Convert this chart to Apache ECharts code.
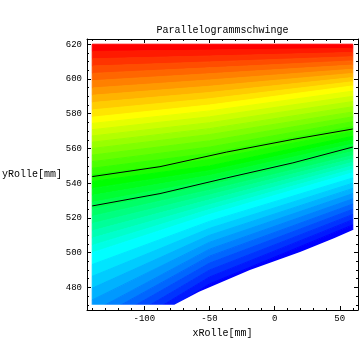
<!DOCTYPE html>
<html>
<head>
<meta charset="utf-8">
<script src="https://cdn.jsdelivr.net/npm/echarts@6/dist/echarts.min.js"></script>
<style>
html, body { margin: 0; padding: 0; background: #fff; }
#chart { width: 360px; height: 360px; }
</style>
</head>
<body>
<div id="chart"></div>
<script>
// Lage der Farbgrenzen (Hue k/12, k = 0..8) an den Stellen x = -140, -50, 60
var edgeX = [-140, -50, 60];
var levelYLeft  = [620, 599, 578, 560, 541, 521, 500, 466, 440];
var levelYMid   = [620, 603, 585, 568, 550, 536, 522, 502, 482];
var levelYRight = [620, 608, 596, 581, 567, 556, 546, 531, 516];
var bandsPerLevel = 5;

// unterer Rand des erreichbaren Bereichs
var rimX = [-140, -77, -58, -19, 20, 46, 60];
var rimY = [470, 470, 477.5, 490, 500.5, 508.5, 513];

// die zwei schwarzen Kurven
var curveX = [-140, -88, -37, 14, 60];
var upperY = [543.8, 549.5, 557.9, 565.2, 571.2];
var lowerY = [526.9, 534, 543, 551.7, 560.8];

// Achsenteilung
var xMajor = [-100, -50, 0, 50];
var xMinor = [-140, -130, -120, -110, -90, -80, -70, -60, -40, -30, -20, -10, 10, 20, 30, 40, 60];
var yMajor = [480, 500, 520, 540, 560, 580, 600, 620];
var yMinor = [470, 475, 485, 490, 495, 505, 510, 515, 525, 530, 535, 545, 550, 555,
              565, 570, 575, 585, 590, 595, 605, 610, 615];

var FONT = 'Liberation Mono';

function hueColor(h) {
  // wie Mathematica Hue[h]
  var i = Math.floor(h * 6), f = h * 6 - i, q = 1 - f, r, g, b;
  switch (((i % 6) + 6) % 6) {
    case 0: r = 1; g = f; b = 0; break;
    case 1: r = q; g = 1; b = 0; break;
    case 2: r = 0; g = 1; b = f; break;
    case 3: r = 0; g = q; b = 1; break;
    case 4: r = f; g = 0; b = 1; break;
    default: r = 1; g = 0; b = q;
  }
  return 'rgb(' + Math.round(r * 255) + ',' + Math.round(g * 255) + ',' + Math.round(b * 255) + ')';
}

// Baender zwischen den Farbgrenzen
var bands = [];
var cols = [levelYLeft, levelYMid, levelYRight];
for (var k = 0; k < levelYLeft.length - 1; k++) {
  for (var s = 0; s < bandsPerLevel; s++) {
    var row = [];
    for (var e = 0; e < 3; e++) {
      var a = cols[e][k], b = cols[e][k + 1];
      row.push(a + (b - a) * s / bandsPerLevel);
    }
    for (var e2 = 0; e2 < 3; e2++) {
      var a2 = cols[e2][k], b2 = cols[e2][k + 1];
      row.push(a2 + (b2 - a2) * (s + 1) / bandsPerLevel);
    }
    row.push((k * bandsPerLevel + s) / (bandsPerLevel * 12));
    bands.push(row);
  }
}
// letztes Band (blau) bis unter den Rand
var last = levelYLeft.length - 1;
bands.push([levelYLeft[last], levelYMid[last], levelYRight[last], 400, 400, 400, 2 / 3]);

function xAxisDef(pos, ticks, len, withLabels) {
  return {
    type: 'value', min: -144, max: 64, position: pos, z: 5,
    axisLine: { show: withLabels !== null, onZero: false, lineStyle: { color: '#000', width: 1 } },
    axisTick: { show: true, inside: true, length: len, customValues: ticks, lineStyle: { color: '#000', width: 1 } },
    axisLabel: withLabels ? { show: true, customValues: ticks, margin: 4, fontSize: 9, fontFamily: FONT, color: '#000' } : { show: false },
    splitLine: { show: false }
  };
}
function yAxisDef(pos, ticks, len, withLabels) {
  return {
    type: 'value', min: 467, max: 623, position: pos, z: 5,
    axisLine: { show: withLabels !== null, onZero: false, lineStyle: { color: '#000', width: 1 } },
    axisTick: { show: true, inside: true, length: len, customValues: ticks, lineStyle: { color: '#000', width: 1 } },
    axisLabel: withLabels ? { show: true, customValues: ticks, margin: 5, fontSize: 9, fontFamily: FONT, color: '#000' } : { show: false },
    splitLine: { show: false }
  };
}

var xAxes = [
  xAxisDef('bottom', xMajor, 4, true),
  xAxisDef('bottom', xMinor, 2, null),
  xAxisDef('top', xMajor, 4, false),
  xAxisDef('top', xMinor, 2, null)
];
xAxes[0].name = 'xRolle[mm]';
xAxes[0].nameLocation = 'middle';
xAxes[0].nameGap = 12;
xAxes[0].nameTextStyle = { fontFamily: FONT, fontSize: 10, color: '#000' };

var yAxes = [
  yAxisDef('left', yMajor, 4, true),
  yAxisDef('left', yMinor, 2, null),
  yAxisDef('right', yMajor, 4, false),
  yAxisDef('right', yMinor, 2, null)
];

var chart = echarts.init(document.getElementById('chart'));
chart.setOption({
  animation: false,
  backgroundColor: '#fff',
  grid: { left: 87, top: 39, width: 271, height: 271, containLabel: false, outerBoundsMode: 'none' },
  xAxis: xAxes,
  yAxis: yAxes,
  graphic: [
    { type: 'text', x: 222.5, y: 30, style: { text: 'Parallelogrammschwinge', font: '10px "' + FONT + '"', fill: '#000', align: 'center', verticalAlign: 'middle' } },
    { type: 'text', x: 2, y: 174, style: { text: 'yRolle[mm]', font: '10px "' + FONT + '"', fill: '#000', align: 'left', verticalAlign: 'middle' } }
  ],
  series: [
    {
      type: 'custom', z: 1, clip: true, silent: true,
      xAxisIndex: 0, yAxisIndex: 0,
      data: bands,
      renderItem: function (params, api) {
        var pts = [];
        for (var i = 0; i < 3; i++) pts.push(api.coord([edgeX[i], api.value(i)]));
        for (var j = 2; j >= 0; j--) pts.push(api.coord([edgeX[j], api.value(3 + j)]));
        var c = hueColor(api.value(6));
        return { type: 'polygon', shape: { points: pts }, style: { fill: c, stroke: c, lineWidth: 1 } };
      }
    },
    {
      type: 'custom', z: 2, clip: true, silent: true,
      xAxisIndex: 0, yAxisIndex: 0,
      data: [[0]],
      renderItem: function (params, api) {
        var pts = [];
        for (var i = 0; i < rimX.length; i++) pts.push(api.coord([rimX[i], rimY[i]]));
        pts.push(api.coord([rimX[rimX.length - 1] + 2, rimY[rimY.length - 1]]));
        pts.push(api.coord([rimX[rimX.length - 1] + 2, 450]));
        pts.push(api.coord([rimX[0] - 2, 450]));
        pts.push(api.coord([rimX[0] - 2, rimY[0]]));
        return { type: 'polygon', shape: { points: pts }, style: { fill: '#fff' } };
      }
    },
    {
      type: 'line', z: 3, symbol: 'none', silent: true,
      data: curveX.map(function (x, i) { return [x, upperY[i]]; }),
      lineStyle: { color: '#000', width: 1 }
    },
    {
      type: 'line', z: 3, symbol: 'none', silent: true,
      data: curveX.map(function (x, i) { return [x, lowerY[i]]; }),
      lineStyle: { color: '#000', width: 1 }
    }
  ]
});
</script>
</body>
</html>
